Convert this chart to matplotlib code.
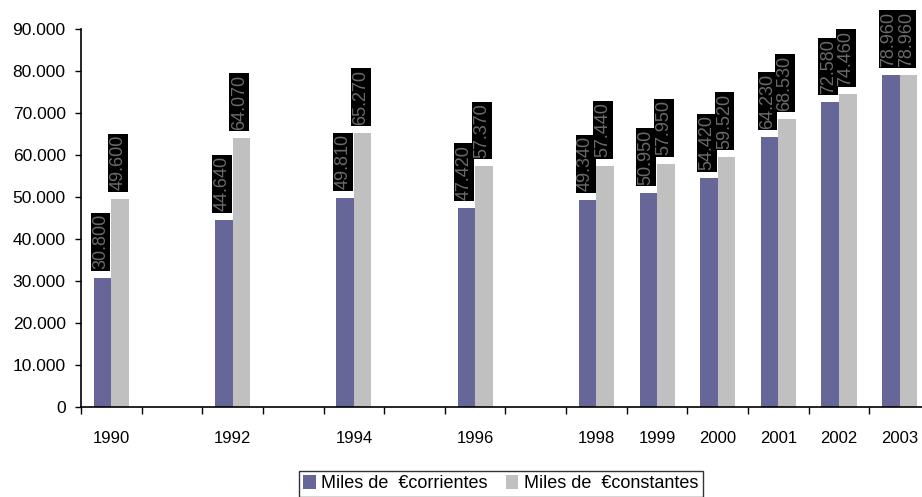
import matplotlib
matplotlib.use("Agg")
import matplotlib.pyplot as plt
import numpy as np

# categories (empty slots are years without data)
years = ["1990", "", "1992", "", "1994", "", "1996", "", "1998", "1999", "2000", "2001", "2002", "2003"]
corrientes = [30800, None, 44640, None, 49810, None, 47420, None, 49340, 50950, 54420, 64230, 72580, 78960]
constantes = [49600, None, 64070, None, 65270, None, 57370, None, 57440, 57950, 59520, 68530, 74460, 78960]

plt.rcParams['font.family'] = ['Liberation Sans', 'DejaVu Sans']

fig = plt.figure(figsize=(9.22, 4.97), dpi=100)
ax = fig.add_axes([81/922, 90/497, 849/922, 378/497])

x = np.arange(len(years))
w = 0.29
c1 = '#666699'
c2 = '#c0c0c0'

xs1 = [i for i in x if corrientes[i] is not None]
ys1 = [corrientes[i] for i in xs1]
xs2 = [i for i in x if constantes[i] is not None]
ys2 = [constantes[i] for i in xs2]

ax.bar(np.array(xs1) - w/2, ys1, w, color=c1, label='Miles de  €corrientes')
ax.bar(np.array(xs2) + w/2, ys2, w, color=c2, label='Miles de  €constantes')

def fmt(v):
    return f"{v:,}".replace(",", ".")

for xi, v in zip(xs1, ys1):
    ax.annotate(fmt(v), (xi - w/2, v), xytext=(-1.5, 6), textcoords='offset points',
                rotation=90, ha='center', va='bottom', fontsize=13, color='#6a6a6a',
                bbox=dict(boxstyle='square,pad=0.08', fc='black', ec='none'),
                annotation_clip=False)
for xi, v in zip(xs2, ys2):
    ax.annotate(fmt(v), (xi + w/2, v), xytext=(-1.5, 6), textcoords='offset points',
                rotation=90, ha='center', va='bottom', fontsize=13, color='#6a6a6a',
                bbox=dict(boxstyle='square,pad=0.08', fc='black', ec='none'),
                annotation_clip=False)

ax.set_xlim(-0.5, len(years) - 0.5)
ax.set_ylim(0, 90000)
ax.set_yticks(np.arange(0, 90001, 10000))
ax.set_yticklabels([fmt(v) for v in range(0, 90001, 10000)], fontsize=12.5)
ax.set_xticks(x)
ax.set_xticklabels(years, fontsize=12)
ax.set_xticks(np.arange(-0.5, len(years), 1), minor=True)
ax.tick_params(axis='x', which='major', length=0, pad=17)
ax.tick_params(axis='x', which='minor', length=5, width=1, direction='out')
ax.tick_params(axis='y', length=4, width=1, direction='out', pad=7)

for s in ['top', 'right']:
    ax.spines[s].set_visible(False)
for s in ['left', 'bottom']:
    ax.spines[s].set_linewidth(1.2)

leg = fig.legend(loc='lower center', bbox_to_anchor=(0.543, -0.018), ncol=2, fontsize=13,
                 frameon=True, fancybox=False, edgecolor='black', handlelength=0.7,
                 handleheight=0.8, handletextpad=0.3, columnspacing=1.0, borderpad=0.25)
leg.get_frame().set_linewidth(1.0)

fig.savefig('out.png', dpi=100)
